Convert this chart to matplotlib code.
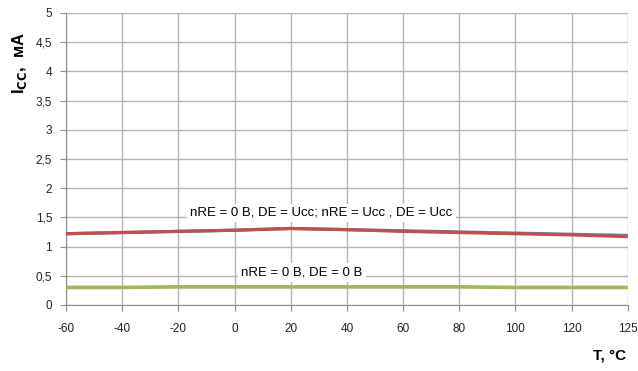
import matplotlib
matplotlib.use("Agg")
import matplotlib.pyplot as plt

temps = ["-60", "-40", "-20", "0", "20", "40", "60", "80", "100", "120", "125"]
icc_blue = [1.22, 1.24, 1.26, 1.28, 1.31, 1.29, 1.27, 1.25, 1.23, 1.21, 1.19]
icc_red = [1.22, 1.24, 1.26, 1.28, 1.31, 1.29, 1.26, 1.24, 1.22, 1.20, 1.17]
icc_green = [0.30, 0.30, 0.31, 0.31, 0.31, 0.31, 0.31, 0.31, 0.30, 0.30, 0.30]
yticks = [0, 0.5, 1, 1.5, 2, 2.5, 3, 3.5, 4, 4.5, 5]
ytick_labels = ["0", "0,5", "1", "1,5", "2", "2,5", "3", "3,5", "4", "4,5", "5"]

plt.rcParams['font.family'] = ['Liberation Sans', 'DejaVu Sans']

fig = plt.figure(figsize=(6.38, 3.71), dpi=100)
ax = fig.add_axes([0.1034, 0.178, 0.8806, 0.787])
x = list(range(len(temps)))

ax.plot(x, icc_blue, color="#4f81bd", lw=2.3, solid_capstyle="butt", zorder=3)
ax.plot(x, icc_red, color="#c0504d", lw=2.3, solid_capstyle="butt", zorder=4)
ax.plot(x, icc_green, color="#9bbb59", lw=2.6, solid_capstyle="butt", zorder=3)

ax.set_xlim(0, len(temps) - 1)
ax.set_ylim(0, 5)
ax.set_xticks(x)
ax.set_xticklabels(temps, fontsize=8.5, color="#222222")
ax.set_yticks(yticks)
ax.set_yticklabels(ytick_labels, fontsize=8.5, color="#222222")
ax.grid(True, color="#b4b4b4", lw=1.0)
ax.set_axisbelow(True)
for s in ["top", "right"]:
    ax.spines[s].set_visible(False)
for s in ["left", "bottom"]:
    ax.spines[s].set_color("#8c8c8c")
ax.tick_params(axis="both", direction="out", length=4, color="#8c8c8c")
ax.tick_params(axis="x", pad=9)
ax.tick_params(axis="y", pad=6)

ax.text(4.55, 1.575, "nRE = 0 B, DE = Ucc; nRE = Ucc , DE = Ucc", fontsize=9.5,
        ha="center", va="center", zorder=5,
        bbox=dict(facecolor="white", edgecolor="none", pad=2.5))
ax.text(4.2, 0.55, "nRE = 0 B, DE = 0 B", fontsize=9.5,
        ha="center", va="center", zorder=5,
        bbox=dict(facecolor="white", edgecolor="none", pad=2.5))

fig.text(0.03, 0.83, r"I$_{\mathbf{CC}}$,  мА", rotation=90, fontsize=12, fontweight="bold",
         ha="center", va="center")
fig.text(0.955, 0.043, "T, °C", fontsize=11, fontweight="bold", ha="center", va="center")

fig.savefig("out.png", dpi=100)
